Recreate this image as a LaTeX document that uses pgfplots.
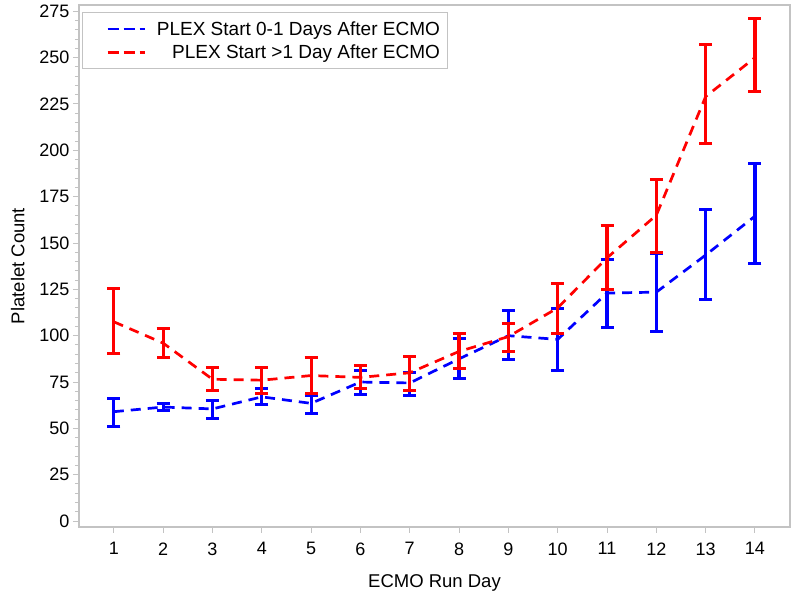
\documentclass[border=0pt]{standalone}
\usepackage{fontspec}
\setmainfont{Liberation Sans}
\usepackage{pgfplots}
\pgfplotsset{compat=1.18}
\usepackage{pgfplotstable}

\pgfplotstableread{
x y ep em
1 59 7 8
2 61.5 2 2
3 60.5 4.5 5
4 67 4.5 4
5 63.5 4.5 5.5
6 75 6 6.5
7 74.5 5.5 6.5
8 87.5 11 10.5
9 100 13.5 13
10 98 16.5 17
11 123 18 18.5
12 123.5 21 21
13 143.5 24.5 24
14 164.5 28.5 25.5
}\bluedata

\pgfplotstableread{
x y ep em
1 107.5 18 17
2 96 8 7.5
3 76.5 6.5 6
4 76 7 7
5 78.5 9.5 9.5
6 77.5 6.5 6
7 80 9 9.5
8 91.5 9.5 9
9 99.5 7 8
10 115 13 14
11 142 17.5 17
12 165 19 20
13 229 28 25.5
14 250 21 18.5
}\reddata

\definecolor{pblue}{RGB}{0,0,255}
\definecolor{pred}{RGB}{255,0,0}
\definecolor{frame}{RGB}{195,195,195}

\begin{document}
\begin{tikzpicture}
\path[use as bounding box] (-79pt,-67pt) rectangle (714pt,527pt);
\begin{axis}[
  scale only axis,
  width=711pt, height=522pt,
  xmin=0.294, xmax=14.71,
  ymin=-3.2, ymax=278.4,
  xtick={1,2,...,14},
  ytick={0,25,...,275},
  minor y tick num=4,
  xtick pos=bottom, ytick pos=left,
  tick align=outside,
  major tick length=6pt, minor tick length=4pt,
  axis line style={frame, line width=1.3pt},
  every tick/.style={frame, line width=1pt},
  /pgf/number format/assume math mode=true,
  tick label style={font=\fontsize{18}{21}\selectfont, text=black},
  xticklabel style={yshift=-6pt},
  xlabel={ECMO Run Day},
  ylabel={Platelet Count},
  label style={font=\fontsize{18.5}{21}\selectfont},
  xlabel style={yshift=-12pt},
  ylabel style={yshift=8pt},
  legend style={
    at={(0.0045,0.987)}, anchor=north west,
    draw=frame, line width=1pt,
    inner xsep=4.5pt, inner ysep=5pt,
    font=\fontsize{19}{22}\selectfont,
    nodes={inner xsep=3pt, inner ysep=4pt},
    row sep=0pt,
  },
  legend cell align=right,
  legend image code/.code={\draw[#1] (0pt,0pt) -- (37pt,0pt); \path (-19pt,0pt) (45pt,0pt);},
]
\addplot[pblue, line width=2.7pt, dash pattern=on 10pt off 7pt, forget plot,
  error bars/.cd, y dir=both, y explicit,
  error bar style={solid, line width=3.2pt},
  error mark options={solid, line width=3pt, mark size=6.5pt, rotate=90}]
  table[x=x, y=y, y error plus=ep, y error minus=em]{\bluedata};
\addplot[pred, line width=2.7pt, dash pattern=on 10pt off 7pt, forget plot,
  error bars/.cd, y dir=both, y explicit,
  error bar style={solid, line width=3.2pt},
  error mark options={solid, line width=3pt, mark size=6.5pt, rotate=90}]
  table[x=x, y=y, y error plus=ep, y error minus=em]{\reddata};
\addlegendimage{pblue, line width=2.7pt, dash pattern=on 11pt off 5pt}
\addlegendentry{PLEX Start 0-1 Days After ECMO}
\addlegendimage{pred, line width=2.7pt, dash pattern=on 11pt off 5pt}
\addlegendentry{PLEX Start >1 Day After ECMO}
\end{axis}
\end{tikzpicture}
\end{document}
